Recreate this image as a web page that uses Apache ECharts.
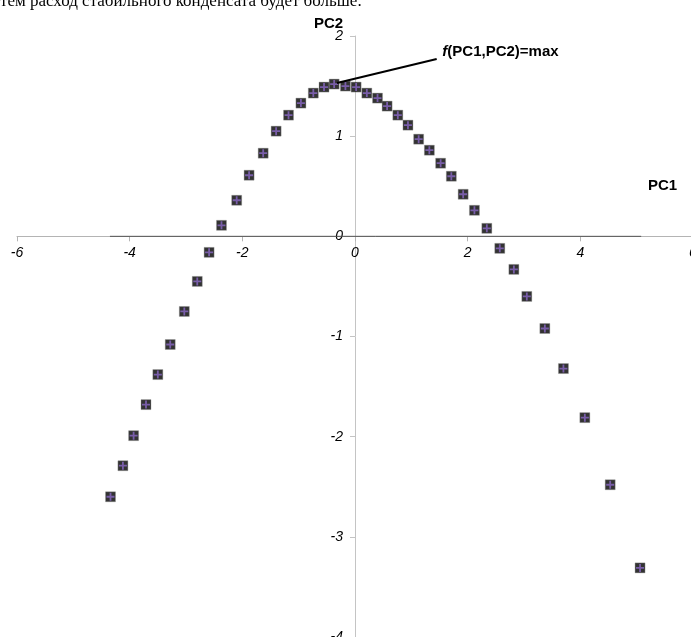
<!DOCTYPE html>
<html>

	<head>
		<meta charset="utf-8">
		<title>PC1 - PC2</title>
		<style>
			html, body { margin: 0; padding: 0; background: #fff; }
			#chart_pc { width: 691px; height: 637px; }
		</style>
	</head>

	<body>

		<div id="chart_pc"></div>

		<script src="https://cdn.jsdelivr.net/npm/echarts@6/dist/echarts.min.js"></script>
		<script type="text/javascript">
			// значения главных компонент
			var pc1 = [-4.34, -4.12, -3.93, -3.71, -3.50, -3.28, -3.03, -2.80, -2.59, -2.37,
				-2.10, -1.88, -1.63, -1.40, -1.18, -0.96, -0.74, -0.55, -0.37, -0.17,
				0.02, 0.21, 0.40, 0.57, 0.76, 0.94, 1.13, 1.32, 1.52, 1.71,
				1.92, 2.12, 2.34, 2.57, 2.82, 3.05, 3.37, 3.70, 4.08, 4.53, 5.06];
			var pc2 = [-2.60, -2.29, -1.99, -1.68, -1.38, -1.08, -0.75, -0.45, -0.16, 0.11,
				0.36, 0.61, 0.83, 1.05, 1.21, 1.33, 1.43, 1.49, 1.52, 1.50,
				1.49, 1.43, 1.38, 1.30, 1.21, 1.11, 0.97, 0.86, 0.73, 0.60,
				0.42, 0.26, 0.08, -0.12, -0.33, -0.60, -0.92, -1.32, -1.81, -2.48, -3.31];

			// тёмный отрезок на оси PC1
			var baseLine = [[-4.35, 0], [5.08, 0]];
			// выноска к максимуму
			var leader = [[-0.32, 1.53], [1.45, 1.77]];
			var leaderText = [1.47, 1.84];

			var pcData = pc1.map(function(x, i) {
				return [x, pc2[i]];
			});

			var font = 'Liberation Sans, Arial, sans-serif';
			var plusPath = 'path://M3.1,0H4.9V8H3.1Z M0,3.1H8V4.9H0Z';

			// сетка: оси пересекаются в нуле (x=0 -> 355px, y=0 -> 236px)
			var gridLeft = 17, gridTop = 36, gridW = 676, gridH = 601;

			var pcChart = echarts.init(document.getElementById('chart_pc'));
			pcChart.setOption({
				animation: false,
				backgroundColor: '#fff',
				title: {
					text: 'тем расход стабильного конденсата будет больше.',
					left: 0,
					top: -7,
					padding: 0,
					textStyle: {
						fontFamily: 'Liberation Serif, Times New Roman, serif',
						fontSize: 17,
						fontWeight: 'normal',
						color: '#000'
					}
				},
				graphic: [{
					type: 'text',
					left: 314,
					top: 16,
					style: { text: 'PC2', font: 'bold 15px ' + font, fill: '#000' }
				}, {
					type: 'text',
					left: 648,
					top: 178,
					style: { text: 'PC1', font: 'bold 15px ' + font, fill: '#000' }
				}],
				grid: {
					left: gridLeft,
					top: gridTop,
					width: gridW,
					height: gridH,
					outerBoundsMode: 'none'
				},
				xAxis: {
					type: 'value',
					min: -6,
					max: 6,
					interval: 2,
					position: 'bottom',
					// ось поднимается к y = 0
					offset: -(gridH * 4 / 6),
					splitLine: { show: false },
					axisLine: { onZero: false, lineStyle: { color: '#b4b4b4', width: 1 } },
					axisTick: { length: 5, lineStyle: { color: '#b4b4b4' } },
					axisLabel: {
						margin: 10,
						fontFamily: font,
						fontStyle: 'italic',
						fontSize: 14,
						color: '#000'
					}
				},
				yAxis: {
					type: 'value',
					min: -4,
					max: 2,
					interval: 1,
					position: 'left',
					// ось сдвигается к x = 0
					offset: -(gridW / 2),
					splitLine: { show: false },
					axisLine: { onZero: false, lineStyle: { color: '#c4c4c4', width: 1 } },
					axisTick: { length: 5, lineStyle: { color: '#c4c4c4' } },
					axisLabel: {
						margin: 12,
						fontFamily: font,
						fontStyle: 'italic',
						fontSize: 14,
						color: '#000'
					}
				},
				series: [{
					type: 'line',
					data: baseLine,
					symbol: 'none',
					silent: true,
					lineStyle: { color: '#555', width: 1 },
					z: 1
				}, {
					name: 'PC',
					type: 'scatter',
					data: pcData,
					symbol: 'rect',
					symbolSize: 10,
					itemStyle: {
						color: '#000',
						borderColor: 'rgba(150,150,150,0.6)',
						borderWidth: 0.8
					},
					z: 2,
					markLine: {
						silent: true,
						symbol: ['none', 'none'],
						label: { show: false },
						lineStyle: { color: '#000', width: 2, type: 'solid' },
						data: [[{ coord: leader[0] }, { coord: leader[1] }]]
					},
					markPoint: {
						silent: true,
						symbol: 'circle',
						symbolSize: 1,
						itemStyle: { color: 'rgba(0,0,0,0)' },
						label: {
							show: true,
							position: 'right',
							distance: 4,
							formatter: '{i|f}{b|(PC1,PC2)=max}',
							rich: {
								i: { fontFamily: font, fontSize: 15, fontWeight: 'bold', fontStyle: 'italic', color: '#000' },
								b: { fontFamily: font, fontSize: 15, fontWeight: 'bold', color: '#000' }
							}
						},
						data: [{ coord: leaderText }]
					}
				}, {
					type: 'scatter',
					data: pcData,
					symbol: plusPath,
					symbolSize: 8,
					silent: true,
					itemStyle: { color: '#8a68c6' },
					z: 3
				}]
			});
		</script>

	</body>

</html>
